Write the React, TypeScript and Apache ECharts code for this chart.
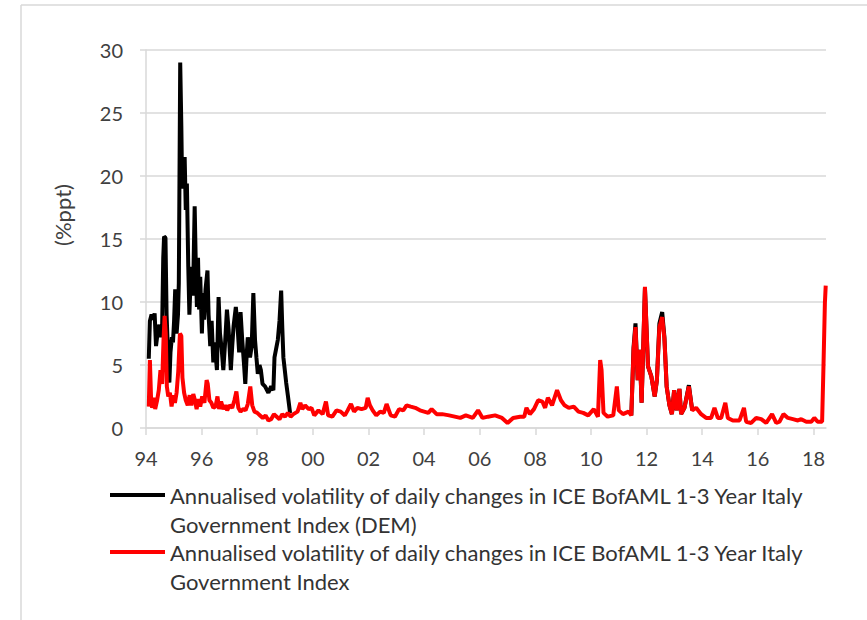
import React, { useEffect, useRef } from "react";
import * as echarts from "echarts";

const DEM_NAME = "Annualised volatility of daily changes in ICE BofAML 1-3 Year Italy Government Index (DEM)";
const EUR_NAME = "Annualised volatility of daily changes in ICE BofAML 1-3 Year Italy Government Index";
const LEGEND_LINES: Record<string, string> = {
  [DEM_NAME]: "Annualised volatility of daily changes in ICE BofAML 1-3 Year Italy\nGovernment Index (DEM)",
  [EUR_NAME]: "Annualised volatility of daily changes in ICE BofAML 1-3 Year Italy\nGovernment Index",
};

const X_TICKS = [1994, 1996, 1998, 2000, 2002, 2004, 2006, 2008, 2010, 2012, 2014, 2016, 2018];
const Y_TICKS = [0, 5, 10, 15, 20, 25, 30];

// DEM index volatility 1994-1999 (year fraction, %ppt)
const demEarly: [number, number][] = [
  [1994.10, 5.5], [1994.14, 8.5], [1994.20, 9.0], [1994.26, 8.6], [1994.31, 9.1], [1994.36, 6.5],
  [1994.42, 7.6], [1994.48, 8.2], [1994.53, 7.2], [1994.58, 8.0], [1994.62, 13.5], [1994.65, 15.2],
  [1994.70, 15.1], [1994.74, 9.0], [1994.79, 6.0], [1994.84, 3.6], [1994.88, 6.0], [1994.93, 7.2],
  [1994.97, 6.8], [1995.01, 8.5], [1995.05, 11.0], [1995.10, 7.5], [1995.15, 9.0], [1995.18, 11.5],
  [1995.23, 29.0], [1995.27, 24.0], [1995.30, 19.0], [1995.34, 21.0], [1995.39, 21.5], [1995.43, 17.3],
  [1995.47, 19.4], [1995.52, 12.8], [1995.56, 9.0], [1995.60, 11.5], [1995.65, 12.8], [1995.69, 10.5],
  [1995.75, 17.6], [1995.79, 13.0], [1995.83, 9.6], [1995.87, 13.5], [1995.91, 9.4], [1995.95, 12.0],
  [1996.01, 7.5], [1996.05, 10.7], [1996.09, 8.6], [1996.14, 11.0], [1996.21, 12.5], [1996.25, 9.0],
  [1996.31, 6.5], [1996.36, 8.5], [1996.42, 5.2], [1996.47, 6.8], [1996.55, 4.6], [1996.61, 10.4],
  [1996.66, 7.5], [1996.72, 6.3], [1996.78, 4.6], [1996.85, 7.0], [1996.91, 9.4], [1996.97, 7.8],
  [1997.05, 4.6], [1997.10, 6.5], [1997.15, 8.1], [1997.23, 9.6], [1997.29, 8.1], [1997.35, 6.0],
  [1997.40, 9.2], [1997.46, 7.0], [1997.52, 5.2], [1997.57, 3.5], [1997.62, 5.8], [1997.66, 7.2],
  [1997.74, 5.6], [1997.80, 6.5], [1997.86, 10.7], [1997.92, 7.0], [1997.97, 5.6], [1998.02, 4.3],
  [1998.08, 5.0], [1998.13, 4.6], [1998.19, 3.5], [1998.28, 3.3], [1998.40, 2.8], [1998.50, 3.3],
  [1998.58, 3.0], [1998.62, 5.6], [1998.74, 7.0], [1998.80, 8.5], [1998.86, 10.9], [1998.90, 8.0],
  [1998.94, 5.6], [1998.99, 4.6], [1999.04, 3.6], [1999.10, 2.6], [1999.18, 1.2],
];

// DEM index volatility, 2011-2013 segment visible above the EUR line
const demLate: [number, number][] = [
  [2011.45, 1.0], [2011.53, 6.4], [2011.60, 8.3], [2011.68, 3.8], [2011.75, 6.2], [2011.82, 2.0],
  [2011.94, 11.1], [2012.05, 4.9], [2012.17, 4.1], [2012.29, 2.5], [2012.37, 3.8], [2012.46, 8.3],
  [2012.56, 9.2], [2012.64, 7.2], [2012.72, 3.3], [2012.82, 1.8], [2012.91, 1.1], [2012.99, 3.0],
  [2013.08, 1.4], [2013.18, 3.1], [2013.24, 1.1], [2013.36, 1.6], [2013.52, 3.4], [2013.64, 1.4],
];

// Italy government index volatility 1994-2018
const eurAll: [number, number][] = [
  [1994.10, 1.7], [1994.14, 5.4], [1994.18, 2.5], [1994.22, 1.6], [1994.28, 2.4], [1994.33, 1.5],
  [1994.40, 2.2], [1994.46, 3.0], [1994.52, 4.6], [1994.58, 3.5], [1994.63, 7.0], [1994.67, 8.9],
  [1994.71, 7.5], [1994.75, 3.3], [1994.80, 2.5], [1994.86, 2.8], [1994.92, 1.7], [1994.98, 2.6],
  [1995.04, 2.0], [1995.10, 2.8], [1995.16, 4.5], [1995.22, 7.5], [1995.27, 7.3], [1995.31, 4.0],
  [1995.37, 2.8], [1995.43, 2.2], [1995.50, 1.8], [1995.57, 2.6], [1995.63, 1.8], [1995.70, 2.7],
  [1995.76, 2.2], [1995.82, 1.5], [1995.88, 2.3], [1995.95, 1.7], [1996.02, 2.5], [1996.10, 2.0],
  [1996.18, 3.8], [1996.22, 3.5], [1996.28, 2.2], [1996.35, 2.0], [1996.42, 1.6], [1996.50, 1.7],
  [1996.57, 2.5], [1996.63, 1.5], [1996.70, 2.1], [1996.78, 1.5], [1996.85, 1.8], [1996.92, 1.4],
  [1997.00, 1.8], [1997.10, 1.6], [1997.18, 2.2], [1997.25, 2.9], [1997.32, 1.6], [1997.40, 1.3],
  [1997.50, 1.5], [1997.58, 1.4], [1997.66, 1.9], [1997.75, 3.3], [1997.82, 1.8], [1997.90, 1.3],
  [1998.00, 1.2], [1998.10, 1.0], [1998.20, 0.8], [1998.30, 1.0], [1998.40, 0.6], [1998.50, 0.7],
  [1998.60, 1.1], [1998.70, 0.9], [1998.80, 0.7], [1998.90, 1.1], [1999.00, 0.9], [1999.10, 1.2],
  [1999.20, 0.9], [1999.30, 1.1], [1999.45, 1.3], [1999.55, 2.0], [1999.62, 1.5], [1999.72, 1.8],
  [1999.85, 1.5], [1999.95, 1.6], [2000.05, 1.0], [2000.20, 1.4], [2000.35, 1.1], [2000.47, 2.1],
  [2000.55, 1.0], [2000.70, 0.9], [2000.85, 1.4], [2001.00, 1.3], [2001.15, 1.0], [2001.25, 1.4],
  [2001.37, 1.9], [2001.48, 1.3], [2001.60, 1.6], [2001.75, 1.5], [2001.90, 1.6], [2001.97, 2.4],
  [2002.05, 1.8], [2002.15, 1.4], [2002.28, 1.0], [2002.42, 1.3], [2002.55, 1.2], [2002.65, 1.9],
  [2002.80, 1.0], [2002.95, 0.9], [2003.10, 1.5], [2003.25, 1.4], [2003.37, 1.8], [2003.52, 1.7],
  [2003.68, 1.6], [2003.85, 1.4], [2004.00, 1.3], [2004.15, 1.2], [2004.27, 1.5], [2004.45, 1.1],
  [2004.65, 1.1], [2004.90, 1.0], [2005.10, 0.9], [2005.30, 0.8], [2005.50, 1.0], [2005.75, 0.8],
  [2005.94, 1.4], [2006.10, 0.8], [2006.30, 0.9], [2006.55, 1.0], [2006.80, 0.8], [2007.00, 0.4],
  [2007.20, 0.8], [2007.45, 0.9], [2007.60, 0.9], [2007.68, 1.6], [2007.80, 1.1], [2007.95, 1.5],
  [2008.10, 2.2], [2008.25, 2.1], [2008.35, 1.6], [2008.45, 2.4], [2008.60, 1.8], [2008.78, 3.0],
  [2008.92, 2.2], [2009.05, 1.8], [2009.20, 1.6], [2009.38, 1.7], [2009.55, 1.3], [2009.72, 1.2],
  [2009.90, 1.0], [2010.10, 1.5], [2010.25, 0.9], [2010.33, 5.4], [2010.38, 4.6], [2010.45, 1.2],
  [2010.60, 0.9], [2010.80, 1.0], [2010.93, 3.3], [2011.00, 1.4], [2011.15, 1.1], [2011.35, 1.3],
  [2011.45, 1.0], [2011.53, 6.2], [2011.60, 8.0], [2011.68, 3.8], [2011.75, 6.2], [2011.82, 2.0],
  [2011.94, 11.2], [2012.05, 4.9], [2012.17, 4.1], [2012.29, 2.5], [2012.37, 3.8], [2012.46, 8.0],
  [2012.56, 8.8], [2012.64, 7.1], [2012.72, 3.3], [2012.82, 1.8], [2012.91, 1.1], [2012.99, 3.0],
  [2013.08, 1.4], [2013.18, 3.1], [2013.24, 1.1], [2013.36, 1.6], [2013.52, 3.3], [2013.64, 1.4],
  [2013.78, 1.6], [2013.96, 1.1], [2014.14, 0.8], [2014.32, 0.8], [2014.44, 1.6], [2014.56, 0.8],
  [2014.68, 0.8], [2014.83, 2.0], [2014.92, 0.8], [2015.10, 0.6], [2015.34, 0.6], [2015.50, 1.6],
  [2015.58, 0.5], [2015.76, 0.4], [2015.94, 0.8], [2016.12, 0.7], [2016.30, 0.4], [2016.51, 1.1],
  [2016.66, 0.4], [2016.78, 0.5], [2016.92, 1.1], [2017.08, 0.8], [2017.26, 0.7], [2017.44, 0.6],
  [2017.56, 0.7], [2017.74, 0.5], [2017.92, 0.5], [2018.03, 0.8], [2018.15, 0.5], [2018.31, 0.5],
  [2018.36, 5.0], [2018.41, 9.9], [2018.44, 11.3],
];

const FONT = "Lato, 'Open Sans', sans-serif";
const GRID_GRAY = "#d9d9d9";
const TEXT = "#404040";

export default function App() {
  const ref = useRef<HTMLDivElement>(null);
  useEffect(() => {
    if (!ref.current) return;
    const chart = echarts.init(ref.current, null, { renderer: "svg" });
    chart.setOption({
      animation: false,
      backgroundColor: "#ffffff",
      textStyle: { fontFamily: FONT },
      grid: { left: 146, right: 41, top: 50, bottom: 192, containLabel: false },
      xAxis: {
        type: "value",
        min: 1994,
        max: 2018.45,
        interval: 2,
        axisLine: { show: true, lineStyle: { color: GRID_GRAY, width: 1.5 } },
        axisTick: { show: true, length: 7, lineStyle: { color: GRID_GRAY, width: 1.5 }, customValues: X_TICKS },
        axisLabel: {
          margin: 20,
          fontSize: 20,
          color: TEXT,
          fontFamily: FONT,
          customValues: X_TICKS,
          formatter: (v: number) => String(Math.round(v) % 100).padStart(2, "0"),
        },
        splitLine: { show: false },
      },
      yAxis: {
        type: "value",
        min: 0,
        max: 30,
        interval: 5,
        axisLine: { show: true, lineStyle: { color: GRID_GRAY, width: 1.5 } },
        axisTick: { show: true, length: 6, lineStyle: { color: GRID_GRAY, width: 1.5 } },
        axisLabel: {
          margin: 23,
          fontSize: 20,
          color: TEXT,
          fontFamily: FONT,
          customValues: Y_TICKS,
        },
        splitLine: { show: true, lineStyle: { color: GRID_GRAY, width: 1.5 } },
      },
      legend: {
        show: true,
        orient: "vertical",
        left: 110,
        top: 451.5,
        padding: 0,
        itemGap: -30,
        itemWidth: 55,
        itemHeight: 4,
        icon: "rect",
        data: [DEM_NAME, EUR_NAME],
        formatter: (name: string) => "\n" + (LEGEND_LINES[name] || name),
        textStyle: {
          fontFamily: FONT,
          fontSize: 22,
          color: "#333333",
          lineHeight: 29,
        },
      },
      graphic: [
        { type: "line", shape: { x1: 21, y1: 5, x2: 867, y2: 5 }, style: { stroke: GRID_GRAY, lineWidth: 1.5 } },
        { type: "line", shape: { x1: 21, y1: 5, x2: 21, y2: 620 }, style: { stroke: GRID_GRAY, lineWidth: 1.5 } },
        {
          type: "text",
          x: 62,
          y: 215,
          rotation: Math.PI / 2,
          style: { text: "(%ppt)", fontSize: 22, fontFamily: FONT, fill: TEXT, align: "center", verticalAlign: "middle" },
        },
      ],
      series: [
        {
          name: DEM_NAME,
          type: "line",
          data: demEarly,
          showSymbol: false,
          color: "#000000",
          lineStyle: { color: "#000000", width: 4 },
        },
        {
          name: DEM_NAME,
          type: "line",
          data: demLate,
          showSymbol: false,
          color: "#000000",
          lineStyle: { color: "#000000", width: 4 },
        },
        {
          name: EUR_NAME,
          type: "line",
          data: eurAll,
          showSymbol: false,
          color: "#ff0000",
          lineStyle: { color: "#ff0000", width: 4 },
        },
      ],
    });
    return () => chart.dispose();
  }, []);
  return <div ref={ref} style={{ position: "absolute", left: 0, top: 0, width: 867, height: 620 }} />;
}
